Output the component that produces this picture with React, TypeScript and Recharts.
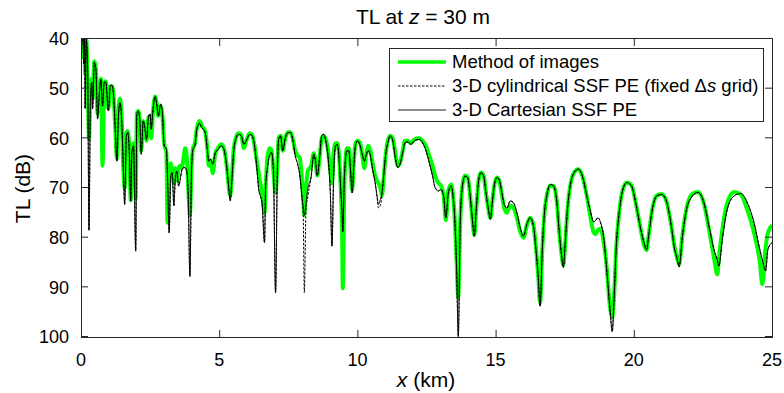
import React from "react";
import { LineChart, Line, XAxis, YAxis } from "recharts";

// range (km)
const km = [
  0, 0.03, 0.08, 0.1, 0.13, 0.15, 0.19, 0.24, 0.29, 0.34, 0.39, 0.42, 0.48, 0.54, 0.6, 0.66, 0.72, 0.78, 0.84, 0.9, 0.99,
  1.06, 1.12, 1.18, 1.24, 1.3, 1.35, 1.41, 1.47, 1.53, 1.58, 1.64, 1.69, 1.75, 1.8, 1.84, 1.9, 1.98,
  2.02, 2.07, 2.13, 2.18, 2.25, 2.3, 2.37, 2.44, 2.5, 2.54, 2.6, 2.68, 2.74, 2.8, 2.88, 2.94,
  3.01, 3.09, 3.13, 3.19, 3.25, 3.3, 3.36, 3.41, 3.47, 3.53, 3.59, 3.64, 3.71, 3.77, 3.83, 3.88, 3.94,
  4.0, 4.05, 4.12, 4.19, 4.29, 4.37, 4.49, 4.57, 4.62, 4.69, 4.77, 4.86, 4.95,
  5.07, 5.17, 5.27, 5.34, 5.4, 5.46, 5.52, 5.6, 5.7, 5.8, 5.89, 5.98,
  6.1, 6.18, 6.28, 6.36, 6.43, 6.49, 6.55, 6.64, 6.68, 6.74, 6.82, 6.9, 6.96,
  7.04, 7.1, 7.15, 7.22, 7.3, 7.39, 7.48, 7.58, 7.66, 7.75, 7.84, 7.92, 7.99,
  8.04, 8.08, 8.14, 8.21, 8.33, 8.42, 8.48, 8.55, 8.63, 8.71, 8.77, 8.87, 8.95,
  9.02, 9.08, 9.14, 9.21, 9.27, 9.33, 9.39, 9.45, 9.47, 9.53, 9.62, 9.69, 9.75, 9.81, 9.87, 9.93,
  10.01, 10.1, 10.19, 10.25, 10.31, 10.4, 10.47, 10.55, 10.64, 10.71, 10.76, 10.83, 10.89, 10.95,
  11.02, 11.1, 11.19, 11.28, 11.36, 11.46, 11.54, 11.64, 11.72, 11.82, 11.94,
  12.06, 12.24, 12.36, 12.48, 12.6, 12.72, 12.81, 12.93,
  13.02, 13.12, 13.2, 13.29, 13.39, 13.46, 13.53, 13.59, 13.65, 13.72, 13.8, 13.89, 13.99,
  14.08, 14.16, 14.23, 14.3, 14.39, 14.47, 14.57, 14.65, 14.74, 14.81, 14.88, 14.95,
  15.05, 15.13, 15.23, 15.31, 15.41, 15.53, 15.65, 15.77, 15.89,
  16.01, 16.13, 16.25, 16.37, 16.46, 16.54, 16.61, 16.69, 16.76, 16.86, 16.98,
  17.1, 17.22, 17.3, 17.39, 17.45, 17.52, 17.6, 17.72, 17.84, 17.99,
  18.14, 18.3, 18.42, 18.55, 18.62, 18.7, 18.8, 18.9,
  19.02, 19.14, 19.22, 19.29, 19.36, 19.47, 19.59, 19.75, 19.92,
  20.07, 20.23, 20.37, 20.46, 20.55, 20.67, 20.83,
  21.0, 21.16, 21.34, 21.48, 21.56, 21.64, 21.76, 21.91,
  22.12, 22.32, 22.54, 22.72, 22.9,
  23.02, 23.08, 23.2, 23.38, 23.63, 23.87,
  24.11, 24.35, 24.56, 24.65, 24.77, 24.85, 25.0,
];

// Method of images (dB)
const images = [
  44, 40, 40, 42, 40, 47, 40, 48, 60, 51, 48, 52, 44.5, 46, 55, 51, 48, 65.5, 49, 48.5, 54,
  49.5, 49.5, 51.5, 58, 64, 55, 52, 55.5, 66, 70, 59, 58.5, 62.5, 72.5, 62.5, 61, 72,
  55, 54.5, 56.5, 62.5, 56.5, 57.5, 60.5, 55.8, 55.5, 60, 55, 51.6, 53, 55.5, 53.5, 55,
  61, 63, 77, 66, 65, 67, 69, 66, 68.5, 66, 65.5, 66, 64, 62, 64, 70, 75.5,
  66, 62, 61, 58, 56.5, 57.5, 58.5, 62, 65.5, 64.5, 67, 63, 62,
  61.2, 62, 65.5, 69.5, 71.5, 68, 62.5, 60, 59, 59.3, 62, 60.5,
  59, 59.2, 61.5, 64.5, 67, 69, 71, 75, 70, 64, 62, 62.5, 66.5,
  71, 66, 60, 59.5, 62.5, 60, 58.8, 58.8, 60, 62.5, 63.5, 64, 68,
  72, 75.5, 70, 66.5, 65.5, 63, 64.5, 67.5, 64, 60, 59.5, 60.5, 63,
  66.5, 69, 63, 61, 61, 63, 69, 80, 90.2, 69, 62, 62, 66, 70.5, 65, 61,
  60.5, 61, 64, 66, 63.5, 61.5, 62.5, 65, 67.5, 68.5, 69, 70, 71.5, 68,
  63.5, 60.5, 59.5, 60, 62.5, 65.5, 65, 62.5, 60.5, 60.5, 61,
  60.2, 60, 60.5, 61.5, 63.5, 65.5, 67.5, 69,
  69.5, 71.5, 76.5, 70.5, 69.3, 71.5, 77, 85, 92, 77, 69.5, 67.5, 67.8,
  71.6, 76.3, 79.5, 74.3, 68.3, 66.9, 67.6, 70.9, 74.3, 76, 72.9, 69.6,
  67.9, 68.5, 71.5, 74, 75, 73.5, 74, 76, 78.8,
  80, 77.5, 76, 77.5, 82, 87.5, 93.1, 82.4, 75.6, 71.3, 69.5,
  69.6, 73, 78.7, 83.5, 85.5, 81, 74.3, 68.9, 66.9, 66.2,
  67.6, 71.6, 75.5, 79, 79.3, 78.5, 78.2, 80.5,
  86, 94, 96, 91.5, 82.4, 75, 70.6, 68.9, 69.5,
  73, 77.7, 81.5, 82.5, 79, 74.3, 71.5,
  71.2, 72.3, 77, 82, 84, 85.3, 79.5, 74,
  71.2, 70.8, 73.2, 78.3, 84,
  87.4, 84, 78.5, 73, 70.8, 71.3,
  74.5, 79, 85, 89.4, 82, 79, 77.5,
];

// 3-D cylindrical SSF PE, fixed delta-s grid (dB)
const cylindrical = [
  56, 41, 40, 45, 40, 54, 40, 46, 78.5, 52.8, 48.7, 54.1, 44.7, 46.1, 56.1, 51.4, 48.1, 53.5, 48.7, 48.7, 54.5,
  49.4, 49.3, 51.4, 58.2, 64.6, 56.1, 52.8, 56.1, 65.6, 73.3, 59.5, 58.8, 62.9, 72.6, 62.9, 61.5, 82.7,
  55.1, 54.5, 56.5, 63.2, 56.5, 57.5, 60.2, 55.8, 55.1, 58.2, 54.5, 51.6, 53.1, 55.5, 53.1, 54.5,
  61.5, 62.2, 67.6, 79, 67.6, 66.9, 73.6, 68.3, 66.6, 69.6, 68.3, 66.6, 65.9, 65.9, 66.6, 71.6, 87.8,
  66.2, 62.2, 61.5, 58.2, 57, 57.8, 58.8, 62.2, 64.6, 64.2, 65.2, 62.9, 62.3,
  61.5, 62.2, 65.6, 69.6, 72.6, 68.3, 62.9, 60.2, 59.2, 59.5, 61.2, 60.5,
  59.2, 59.4, 61.5, 65.9, 70.3, 71.6, 73, 81, 69.6, 66.2, 63.5, 62.9, 66.2,
  91.1, 68, 60.2, 59.5, 62.5, 60, 58.9, 58.8, 60.2, 63.5, 65.2, 67.6, 71.6,
  75.6, 91.1, 74.5, 71.6, 67.6, 63.2, 64.5, 67.5, 64, 59.5, 59.2, 60.9, 64.5,
  70.9, 81.7, 67.6, 61.5, 61.2, 63.5, 69.6, 75.7, 78.8, 67.6, 62.5, 62.5, 66.2, 71, 65.5, 61.5,
  60.5, 61.5, 63.5, 64.6, 63.5, 62.5, 63.5, 66.2, 68.9, 71.6, 74, 73.5, 71.5, 67.6,
  63.5, 60.9, 59.5, 60.5, 63.5, 65.9, 65.2, 62.9, 60.9, 60.7, 61.2,
  60.5, 60.2, 60.9, 62.5, 64.9, 67.6, 69.9, 70.6,
  70.3, 71.6, 76, 71, 69.6, 71.6, 77, 86.4, 99.9, 77, 69.6, 67.6, 67.9,
  71.6, 76.3, 79.7, 74.3, 68.3, 66.9, 67.6, 70.9, 74.3, 76.3, 72.9, 69.6,
  67.9, 68.3, 71, 73.3, 74, 72.6, 73, 75, 78,
  79.7, 77.3, 76, 77.7, 82.4, 87.8, 93.8, 82.4, 75.6, 71.3, 69.3,
  69.6, 73, 78.7, 83.7, 86, 81, 74.3, 68.9, 66.9, 66.2,
  67.6, 71.6, 74.5, 76.8, 76.5, 76, 77, 79.5,
  86.4, 94.5, 98.9, 91.8, 82.4, 75, 70.6, 68.9, 69.6,
  73, 77.7, 81, 82.4, 79, 74.3, 71.6,
  71.3, 72.3, 77, 82.4, 84, 85.9, 79.7, 74.3,
  71.6, 70.9, 73, 77.7, 82.4,
  84.5, 85.7, 80.4, 74.3, 71.6, 71.1,
  73, 77, 82.4, 84.5, 86.7, 82.4, 81,
];

// 3-D Cartesian SSF PE (dB)
const cartesian = [
  56, 41, 40, 45, 40, 54, 40, 46, 78.5, 52.8, 48.7, 54.1, 44.7, 46.1, 56.1, 51.4, 48.1, 53.5, 48.7, 48.7, 54.5,
  49.4, 49.3, 51.4, 58.2, 64.6, 56.1, 52.8, 56.1, 65.6, 73.3, 59.5, 58.8, 62.9, 72.6, 62.9, 61.5, 82.7,
  55.1, 54.5, 56.5, 63.2, 56.5, 57.5, 60.2, 55.8, 55.1, 58.2, 54.5, 51.6, 53.1, 55.5, 53.1, 54.5,
  61.5, 62.2, 67.6, 79, 67.6, 66.9, 73.6, 68.3, 66.6, 69.6, 68.3, 66.6, 65.9, 65.9, 66.6, 71.6, 87.8,
  66.2, 62.2, 61.5, 58.2, 57, 57.8, 58.8, 62.2, 64.6, 64.2, 65.2, 62.9, 62.3,
  61.5, 62.2, 65.6, 69.6, 72.6, 68.3, 62.9, 60.2, 59.2, 59.5, 61.2, 60.5,
  59.2, 59.4, 61.5, 65.9, 70.3, 71.6, 73, 81, 69.6, 66.2, 63.5, 62.9, 66.2,
  91.1, 68, 60.2, 59.5, 62.5, 60, 58.9, 58.8, 60.2, 63.5, 65.2, 67.6, 71.6,
  74, 75.5, 73, 70, 67.6, 63.2, 64.5, 67.5, 64, 59.5, 59.2, 60.9, 64.5,
  70.9, 81.7, 67.6, 61.5, 61.2, 63.5, 69.6, 75.7, 78.8, 67.6, 62.5, 62.5, 66.2, 71, 65.5, 61.5,
  60.5, 61.5, 63.5, 64.6, 63.5, 62.5, 63.5, 66.2, 68.9, 71.6, 73.3, 72.3, 70.9, 67.6,
  63.5, 60.9, 59.5, 60.5, 63.5, 65.9, 65.2, 62.9, 60.9, 60.7, 61.2,
  60.5, 60.2, 60.9, 62.5, 64.9, 67.6, 69.9, 70.6,
  70.3, 71.6, 76, 71, 69.6, 71.6, 77, 86.4, 99.9, 77, 69.6, 67.6, 67.9,
  71.6, 76.3, 79.7, 74.3, 68.3, 66.9, 67.6, 70.9, 74.3, 76.3, 72.9, 69.6,
  67.9, 68.3, 71, 73.3, 74, 72.6, 73, 75, 78,
  79.7, 77.3, 76, 77.7, 82.4, 87.8, 93.8, 82.4, 75.6, 71.3, 69.3,
  69.6, 73, 78.7, 83.7, 86, 81, 74.3, 68.9, 66.9, 66.2,
  67.6, 71.6, 74.5, 76.8, 76.5, 76, 77, 79.5,
  86.4, 94.5, 98.9, 91.8, 82.4, 75, 70.6, 68.9, 69.6,
  73, 77.7, 81, 82.4, 79, 74.3, 71.6,
  71.3, 72.3, 77, 82.4, 84, 85.9, 79.7, 74.3,
  71.6, 70.9, 73, 77.7, 82.4,
  84.5, 85.7, 80.4, 74.3, 71.6, 71.1,
  73, 77, 82.4, 84.5, 86.7, 82.4, 81,
];

const xTicks = [0, 5, 10, 15, 20, 25];
const yTicks = [40, 50, 60, 70, 80, 90, 100];
const X_DOMAIN = [0, 25];
const Y_DOMAIN = [40, 100];

const data = km.map((x, i) => ({
  km: x,
  images: images[i],
  cylindrical: cylindrical[i],
  cartesian: cartesian[i],
}));

const FONT = '"Liberation Sans", Arial, Helvetica, sans-serif';
const AXIS = "#262626";

const W = 784;
const H = 393;
const MARGIN = { top: 39, right: 12, bottom: 26, left: 31 };
const Y_AXIS_W = 50;
const X_AXIS_H = 30;
const PLOT_X = MARGIN.left + Y_AXIS_W;
const PLOT_Y = MARGIN.top;
const PLOT_W = W - MARGIN.left - MARGIN.right - Y_AXIS_W;
const PLOT_H = H - MARGIN.top - MARGIN.bottom - X_AXIS_H;
const TICK_LEN = 7;

// MATLAB-style box with inward ticks on all four sides
function AxesBox() {
  const tx = (v: number) => PLOT_X + ((v - X_DOMAIN[0]) / (X_DOMAIN[1] - X_DOMAIN[0])) * PLOT_W;
  const ty = (v: number) => PLOT_Y + ((v - Y_DOMAIN[0]) / (Y_DOMAIN[1] - Y_DOMAIN[0])) * PLOT_H;
  return (
    <svg
      width={W}
      height={H}
      style={{ position: "absolute", left: 0, top: 0, pointerEvents: "none" }}
    >
      <rect x={PLOT_X + 0.5} y={PLOT_Y - 0.5} width={PLOT_W} height={PLOT_H + 1} fill="none" stroke={AXIS} />
      {xTicks.map((t) => (
        <g key={`x${t}`}>
          <line x1={tx(t) + 0.5} y1={PLOT_Y} x2={tx(t) + 0.5} y2={PLOT_Y + TICK_LEN} stroke={AXIS} />
          <line x1={tx(t) + 0.5} y1={PLOT_Y + PLOT_H} x2={tx(t) + 0.5} y2={PLOT_Y + PLOT_H - TICK_LEN} stroke={AXIS} />
        </g>
      ))}
      {yTicks.map((t) => (
        <g key={`y${t}`}>
          <line x1={PLOT_X} y1={ty(t) - 0.5} x2={PLOT_X + TICK_LEN} y2={ty(t) - 0.5} stroke={AXIS} />
          <line x1={PLOT_X + PLOT_W} y1={ty(t) - 0.5} x2={PLOT_X + PLOT_W - TICK_LEN} y2={ty(t) - 0.5} stroke={AXIS} />
        </g>
      ))}
    </svg>
  );
}

const legendRows = [
  { label: <>Method of images</>, stroke: "#00ff00", width: 3.5, dash: undefined },
  {
    label: (
      <>
        3-D cylindrical SSF PE (fixed Δ<i>s</i> grid)
      </>
    ),
    stroke: "#000",
    width: 1,
    dash: "2.5 1.5",
  },
  { label: <>3-D Cartesian SSF PE</>, stroke: "#000", width: 0.9, dash: undefined },
];

function LegendBox() {
  return (
    <div
      style={{
        position: "absolute",
        left: 389,
        top: 48,
        width: 375,
        height: 74,
        border: "1px solid #262626",
        background: "#fff",
        boxSizing: "border-box",
        fontFamily: FONT,
        fontSize: 18.5,
        color: "#000",
      }}
    >
      {legendRows.map((r, i) => (
        <div
          key={i}
          style={{
            position: "absolute",
            left: 8,
            top: 1 + i * 24,
            height: 24,
            display: "flex",
            alignItems: "center",
            whiteSpace: "nowrap",
          }}
        >
          <svg width={48} height={10} style={{ marginRight: 6 }}>
            <line x1={0} y1={5} x2={48} y2={5} stroke={r.stroke} strokeWidth={r.width} strokeDasharray={r.dash} />
          </svg>
          <span>{r.label}</span>
        </div>
      ))}
    </div>
  );
}

export default function App() {
  return (
    <div style={{ position: "absolute", left: 0, top: 0, width: W, height: H, background: "#fff", fontFamily: FONT }}>
      <LineChart width={W} height={H} data={data} margin={MARGIN}>
        <XAxis
          dataKey="km"
          type="number"
          domain={X_DOMAIN}
          ticks={xTicks}
          interval={0}
          allowDataOverflow
          height={X_AXIS_H}
          axisLine={false}
          tickLine={false}
          tickSize={0}
          tickMargin={16}
          tick={{ fill: "#000", fontSize: 18, fontFamily: FONT }}
        />
        <YAxis
          type="number"
          domain={Y_DOMAIN}
          ticks={yTicks}
          interval={0}
          reversed
          allowDataOverflow
          width={Y_AXIS_W}
          axisLine={false}
          tickLine={false}
          tickSize={0}
          tickMargin={12}
          tick={{ fill: "#000", fontSize: 18, fontFamily: FONT }}
        />
        <Line
          type="monotone"
          dataKey="images"
          stroke="#00ff00"
          strokeWidth={4}
          strokeLinejoin="round"
          dot={false}
          isAnimationActive={false}
        />
        <Line
          type="monotone"
          dataKey="cylindrical"
          stroke="#000"
          strokeWidth={1}
          strokeDasharray="2.5 1.5"
          dot={false}
          isAnimationActive={false}
        />
        <Line
          type="monotone"
          dataKey="cartesian"
          stroke="#000"
          strokeWidth={0.9}
          dot={false}
          isAnimationActive={false}
        />
      </LineChart>
      <AxesBox />
      <LegendBox />
      <div
        style={{
          position: "absolute",
          left: 0,
          width: 846,
          top: 6,
          textAlign: "center",
          fontSize: 21,
          lineHeight: "21px",
          color: "#000",
          whiteSpace: "nowrap",
        }}
      >
        TL at <i>z</i> = 30 m
      </div>
      <div
        style={{
          position: "absolute",
          left: 0,
          width: 852,
          top: 369,
          textAlign: "center",
          fontSize: 21,
          lineHeight: "21px",
          color: "#000",
          whiteSpace: "nowrap",
        }}
      >
        <i>x</i> (km)
      </div>
      <div
        style={{
          position: "absolute",
          left: 22 - 100,
          top: 188 - 10.5,
          width: 200,
          textAlign: "center",
          fontSize: 21,
          lineHeight: "21px",
          color: "#000",
          whiteSpace: "nowrap",
          transform: "rotate(-90deg)",
        }}
      >
        TL (dB)
      </div>
    </div>
  );
}
